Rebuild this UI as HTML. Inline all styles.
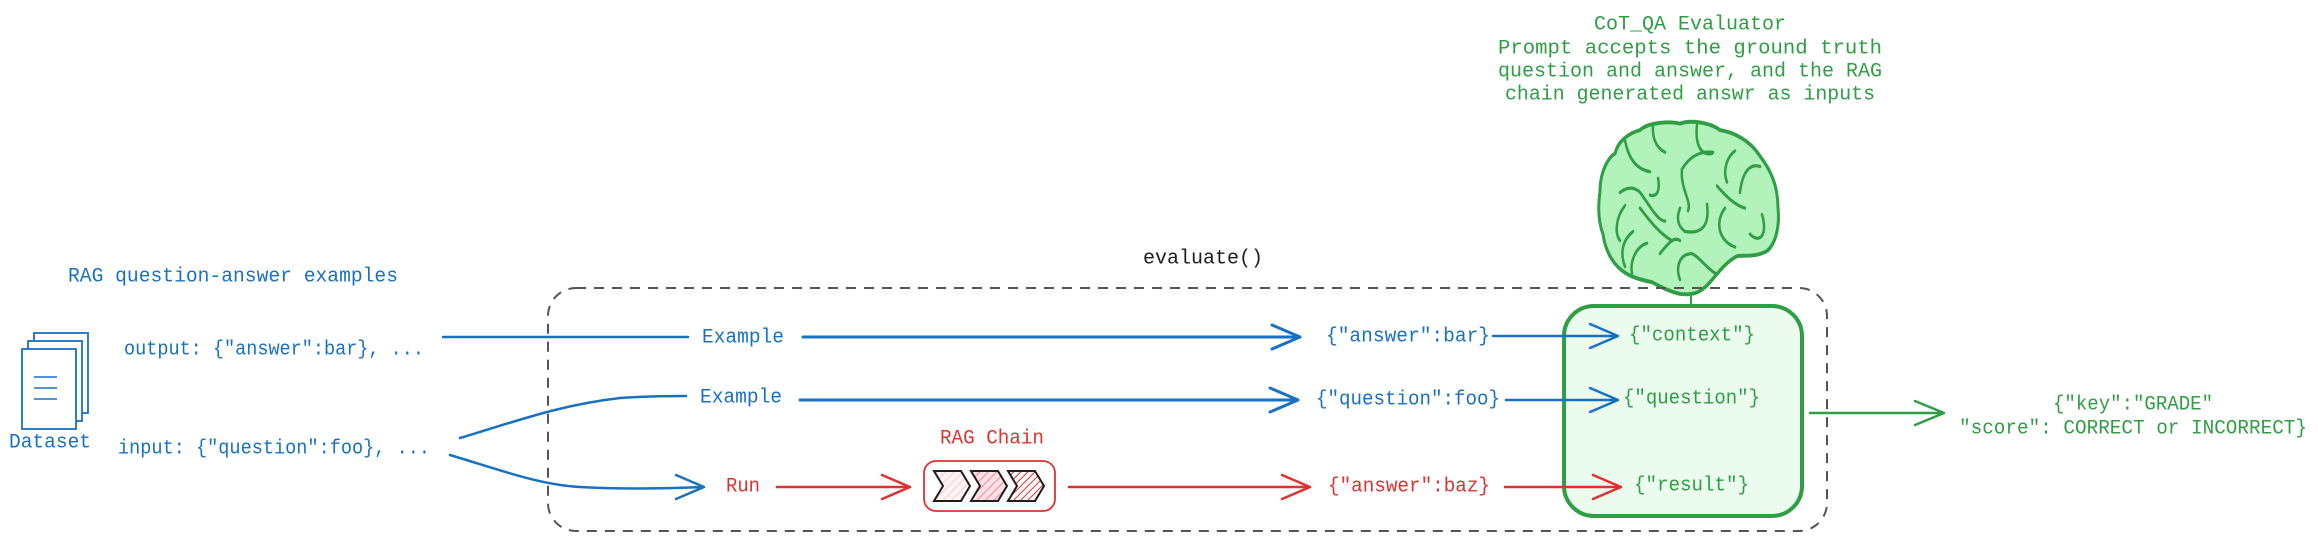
<!DOCTYPE html>
<html><head><meta charset="utf-8"><style>
html,body{margin:0;padding:0;background:#fff;}
svg{display:block;}
text{font-family:"Liberation Mono","DejaVu Sans Mono",monospace;font-size:20px;dominant-baseline:central;}
.b{fill:#1971c2}.r{fill:#e03131}.g{fill:#2f9e44}
</style></head><body>
<svg width="2318" height="541" viewBox="0 0 2318 541" xmlns="http://www.w3.org/2000/svg">
<defs>
<pattern id="h1" width="6" height="6" patternUnits="userSpaceOnUse" patternTransform="rotate(45)"><rect width="6" height="6" fill="#fff5f5"/><line x1="0" y1="0" x2="0" y2="6" stroke="#ffc9c9" stroke-width="2"/></pattern>
<pattern id="h2" width="6" height="6" patternUnits="userSpaceOnUse" patternTransform="rotate(45)"><rect width="6" height="6" fill="#ffe3e3"/><line x1="0" y1="0" x2="0" y2="6" stroke="#f783ac" stroke-width="2"/></pattern>
<pattern id="h3" width="5" height="5" patternUnits="userSpaceOnUse" patternTransform="rotate(45)"><rect width="5" height="5" fill="#fff"/><line x1="0" y1="0" x2="0" y2="5" stroke="#e03131" stroke-width="2"/></pattern>
</defs>

<!-- title -->
<g text-anchor="middle">
<text x="1690" y="25" class="g">CoT_QA Evaluator</text>
<text x="1690" y="49" class="g" textLength="384" lengthAdjust="spacingAndGlyphs">Prompt accepts the ground truth</text>
<text x="1690" y="72" class="g" textLength="384" lengthAdjust="spacingAndGlyphs">question and answer, and the RAG</text>
<text x="1690" y="95" class="g" textLength="370" lengthAdjust="spacingAndGlyphs">chain generated answr as inputs</text>
</g>

<!-- brain -->
<g transform="translate(0,121) scale(1,1.3) translate(0,-123)">
<path d="M1600,177 C1600,160 1610,150 1615,148 C1618,138 1630,132 1640,130 C1648,124 1670,123 1680,125 C1690,122 1710,124 1720,130 C1735,132 1750,138 1760,150 C1770,160 1778,172 1778,190 C1780,205 1775,218 1767,223 C1755,228 1745,226 1737,227 C1725,232 1718,240 1710,247 C1700,256 1692,257 1680,256 C1668,254 1660,250 1652,247 C1640,245 1630,243 1622,238 C1612,232 1605,222 1603,210 C1598,200 1598,188 1600,177 Z" fill="#b2f2bb" stroke="#2f9e44" stroke-width="3"/>
<g fill="none" stroke="#2f9e44" stroke-width="2.5" stroke-linecap="round">
<path d="M1625,138 C1628,150 1635,160 1650,162"/>
<path d="M1653,127 C1652,140 1660,145 1665,147"/>
<path d="M1697,126 C1695,140 1700,150 1712,148"/>
<path d="M1682,160 C1690,150 1700,146 1713,147"/>
<path d="M1682,160 C1680,175 1692,185 1688,192"/>
<path d="M1680,190 C1675,200 1680,205 1685,208 C1700,210 1710,205 1707,187"/>
<path d="M1735,146 C1728,150 1722,160 1727,170"/>
<path d="M1760,158 C1748,155 1742,165 1740,178"/>
<path d="M1717,173 C1725,180 1735,188 1745,190"/>
<path d="M1725,190 C1715,200 1718,215 1735,220"/>
<path d="M1762,195 C1768,210 1760,218 1750,210"/>
<path d="M1620,178 C1630,172 1638,175 1642,180 C1655,195 1660,200 1665,200"/>
<path d="M1658,167 C1660,175 1658,182 1650,180"/>
<path d="M1625,188 C1615,198 1615,210 1620,215"/>
<path d="M1633,208 C1622,215 1620,225 1625,235"/>
<path d="M1647,217 C1635,220 1630,232 1632,240"/>
<path d="M1660,225 C1670,215 1675,212 1680,215"/>
<path d="M1680,245 C1675,235 1680,225 1692,225 C1700,228 1705,235 1715,240"/>
<path d="M1640,190 C1650,200 1660,210 1672,215"/>
</g>
</g>
<line x1="1691" y1="292" x2="1691" y2="306" stroke="#2f9e44" stroke-width="2"/>

<!-- evaluate -->
<text x="1143" y="259" fill="#1e1e1e">evaluate()</text>
<rect x="548" y="288" width="1279" height="243" rx="28" fill="none" stroke="#555" stroke-width="2" stroke-dasharray="10,8"/>

<!-- green box -->
<rect x="1564" y="306" width="238" height="210" rx="30" fill="#ebfbee" stroke="#2f9e44" stroke-width="4"/>

<!-- left -->
<text x="68" y="277" class="b" textLength="330" lengthAdjust="spacingAndGlyphs">RAG question-answer examples</text>
<g fill="#fff" stroke="#1971c2" stroke-width="1.8">
<rect x="34" y="333" width="54" height="80"/>
<rect x="28" y="341" width="54" height="80"/>
<rect x="22" y="349" width="54" height="80"/>
</g>
<g stroke="#1971c2" stroke-width="1.5"><line x1="34" y1="377" x2="57" y2="377"/><line x1="34" y1="388" x2="57" y2="388"/><line x1="34" y1="399" x2="57" y2="399"/></g>
<text x="9" y="443" class="b" textLength="82" lengthAdjust="spacingAndGlyphs">Dataset</text>
<text x="124" y="350" class="b" textLength="300" lengthAdjust="spacingAndGlyphs">output: {"answer":bar}, ...</text>
<text x="118" y="449" class="b" textLength="312" lengthAdjust="spacingAndGlyphs">input: {"question":foo}, ...</text>

<g fill="none" stroke-width="2.5" stroke-linecap="round" stroke-linejoin="round">
<path d="M443,337 H688" stroke="#1971c2"/>
<path d="M803,337 H1300 M1272,325 L1300,337 L1272,349" stroke="#1971c2" stroke-width="3"/>
<path d="M1493,336 H1618 M1590,324 L1618,336 L1590,348" stroke="#1971c2"/>
<path d="M460,438 C520,420 560,405 620,398 C650,396 670,396 686,396" stroke="#1971c2"/>
<path d="M800,400 H1298 M1270,388 L1298,400 L1270,412" stroke="#1971c2" stroke-width="3"/>
<path d="M1506,400 H1618 M1590,388 L1618,400 L1590,412" stroke="#1971c2"/>
<path d="M450,455 C500,470 540,485 580,487 C630,490 680,488 704,487 M676,475 L704,487 L676,499" stroke="#1971c2"/>
<path d="M777,487 H910 M882,475 L910,487 L882,499" stroke="#e03131"/>
<path d="M1069,487 H1310 M1282,475 L1310,487 L1282,499" stroke="#e03131"/>
<path d="M1505,487 H1621 M1593,475 L1621,487 L1593,499" stroke="#e03131"/>
<path d="M1810,413 H1944 M1915,401 L1944,413 L1915,425" stroke="#2f9e44"/>
</g>

<text x="702" y="338" class="b" textLength="82" lengthAdjust="spacingAndGlyphs">Example</text>
<text x="700" y="398" class="b" textLength="82" lengthAdjust="spacingAndGlyphs">Example</text>
<text x="726" y="487" class="r" textLength="34" lengthAdjust="spacingAndGlyphs">Run</text>
<text x="1326" y="337" class="b" textLength="164" lengthAdjust="spacingAndGlyphs">{"answer":bar}</text>
<text x="1316" y="400" class="b" textLength="184" lengthAdjust="spacingAndGlyphs">{"question":foo}</text>
<text x="1328" y="487" class="r" textLength="162" lengthAdjust="spacingAndGlyphs">{"answer":baz}</text>
<text x="1629" y="336" class="g" textLength="126" lengthAdjust="spacingAndGlyphs">{"context"}</text>
<text x="1623" y="399" class="g" textLength="137" lengthAdjust="spacingAndGlyphs">{"question"}</text>
<text x="1634" y="486" class="g" textLength="115" lengthAdjust="spacingAndGlyphs">{"result"}</text>

<text x="940" y="439" class="r" textLength="104" lengthAdjust="spacingAndGlyphs">RAG Chain</text>
<rect x="924" y="461" width="131" height="50" rx="12" fill="#fff" stroke="#e03131" stroke-width="1.8"/>
<g stroke="#1e1e1e" stroke-width="2">
<path d="M934,471 H961 L970,486 L961,501 H934 L943,486 Z" fill="url(#h1)"/>
<path d="M971,471 H998 L1007,486 L998,501 H971 L980,486 Z" fill="url(#h2)"/>
<path d="M1008,471 H1035 L1044,486 L1035,501 H1008 L1017,486 Z" fill="url(#h3)"/>
</g>

<text x="2133" y="405" class="g" text-anchor="middle" textLength="160" lengthAdjust="spacingAndGlyphs">{"key":"GRADE"</text>
<text x="1959" y="429" class="g" textLength="348" lengthAdjust="spacingAndGlyphs">"score": CORRECT or INCORRECT}</text>
</svg>
</body></html>
